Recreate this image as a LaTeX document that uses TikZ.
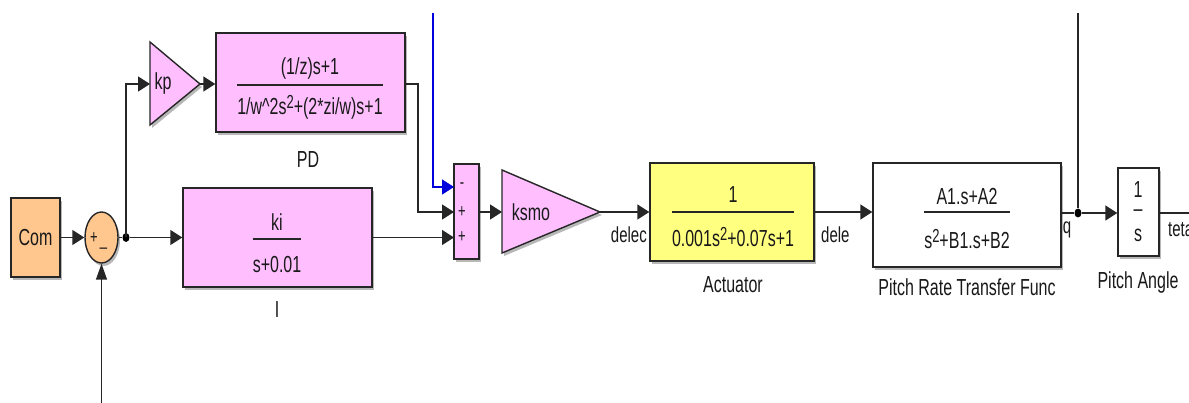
\documentclass[tikz,border=0pt]{standalone}
\usepackage{fontspec}
\setmainfont{Liberation Sans}
\usepackage{graphicx}
\usetikzlibrary{arrows.meta,shapes.geometric,shadows}
\definecolor{slpink}{RGB}{255,191,255}
\definecolor{slorange}{RGB}{255,198,142}
\definecolor{slyellow}{RGB}{255,255,128}
\definecolor{slblue}{RGB}{0,0,220}
\newcommand{\vs}[1]{\scalebox{1}[1.45]{#1}}
\newcommand{\sqr}{\raisebox{0.5ex}{\fontsize{13}{15}\selectfont 2}}
\begin{document}
\begin{tikzpicture}[x=1pt,y=-1pt,
  every node/.style={font=\fontsize{16}{19}\selectfont, inner sep=0pt, text=black!90},
  shadowed/.style={drop shadow={shadow xshift=2pt,shadow yshift=-3pt,fill=black,opacity=0.28}},
  block/.style={draw=black!85, line width=1.4pt, shadowed, rectangle},
  tri/.style={draw=black!85, line width=1.4pt, shadowed, fill=slpink, line join=miter},
  wire/.style={line width=1.4pt, draw=black!85},
  harrow/.style={wire,-{Triangle[length=12pt,width=15pt]}},
  varrow/.style={wire,-{Triangle[length=16pt,width=11pt]}},
  bar/.style={line width=1.3pt, draw=black!85},
  sig/.style={font=\fontsize{15}{18}\selectfont},
  sgn/.style={font=\fontsize{13}{15}\selectfont},
  dot/.style={ellipse, fill=black, minimum width=7pt, minimum height=9pt}
]
\useasboundingbox[fill=white] (0,0) rectangle (1189,403);

% ---- Com and first sum
\node[block, fill=slorange, minimum width=49pt, minimum height=79pt] (com) at (35.5,237.5) {\vs{Com}};
\node[ellipse, draw=black!85, line width=1.4pt, fill=slorange, shadowed, minimum width=33pt, minimum height=51pt] (sum1) at (101.5,237.5) {};
\node[sgn] (s1p) at (94,238) {\vs{+}};
\node[sgn] (s1m) at (103.5,247) {\vs{\_}};
\node[dot] (b1) at (126,237.5) {};

% ---- I block
\node[block, fill=slpink, minimum width=189pt, minimum height=99pt] (I) at (277.5,237.5) {};
\node (Inum) at (277,222) {\vs{ki}};
\node (Iden) at (277,265) {\vs{s+0.01}};
\coordinate (Ibar) at (0,239);
\draw[bar] (Iden.west |- Ibar) -- (Iden.east |- Ibar);
\node (Ilbl) at (277,310) {\vs{I}};

% ---- kp gain
\coordinate (kpin) at (150,84);
\coordinate (kpout) at (200,84);
\coordinate (kptop) at (150,42);
\coordinate (kpbot) at (150,125);
\draw[tri] (kptop) -- (kpout) -- (kpbot) -- cycle;
\node (kp) at (163,84) {\vs{kp}};

% ---- PD block
\node[block, fill=slpink, minimum width=189pt, minimum height=99pt] (PD) at (310.5,82.5) {};
\node (PDnum) at (310,68) {\vs{(1/z)s+1}};
\node (PDden) at (310,107) {\vs{1/w\textasciicircum 2s\sqr+(2*zi/w)s+1}};
\coordinate (PDbar) at (0,85);
\draw[bar] (PDden.west |- PDbar) -- (PDden.east |- PDbar);
\node (PDlbl) at (308,160) {\vs{PD}};

% ---- second sum
\node[block, fill=slpink, minimum width=25pt, minimum height=95pt] (sum2) at (466.5,211.5) {};
\coordinate (s2a) at (454,187);
\coordinate (s2b) at (454,212);
\coordinate (s2c) at (454,237.5);
\node[sgn] (s2m) at (462,186) {\vs{-}};
\node[sgn] (s2p1) at (462,212) {\vs{+}};
\node[sgn] (s2p2) at (462,237) {\vs{+}};

% ---- ksmo gain
\coordinate (ksin) at (502,212);
\coordinate (ksout) at (600,212);
\coordinate (kstop) at (502,170);
\coordinate (ksbot) at (502,253);
\draw[tri] (kstop) -- (ksout) -- (ksbot) -- cycle;
\node (ksmo) at (531,212) {\vs{ksmo}};

% ---- Actuator
\node[block, fill=slyellow, minimum width=164pt, minimum height=98pt] (act) at (732,212) {};
\node (actnum) at (733,195) {\vs{1}};
\node (actden) at (733,237) {\vs{0.001s\sqr+0.07s+1}};
\coordinate (actbar) at (0,212);
\draw[bar] (actden.west |- actbar) -- (actden.east |- actbar);
\node (actlbl) at (733,285) {\vs{Actuator}};
\node[sig, anchor=east] (delec) at (647,235) {\vs{delec}};
\node[sig, anchor=west] (dele) at (821,235) {\vs{dele}};

% ---- Pitch rate transfer function
\node[block, fill=white, minimum width=188pt, minimum height=104pt] (prtf) at (967,215) {};
\node (prnum) at (967,197) {\vs{A1.s+A2}};
\node (prden) at (967,239) {\vs{s\sqr+B1.s+B2}};
\coordinate (prbar) at (0,212);
\draw[bar] (prden.west |- prbar) -- (prden.east |- prbar);
\node (prlbl) at (967,287) {\vs{Pitch Rate Transfer Func}};
\node[sig] (q) at (1067,230) {\vs{q}};
\node[dot] (b2) at (1078,213) {};

% ---- Pitch angle integrator
\node[block, fill=white, minimum width=41pt, minimum height=88pt] (pa) at (1138.5,212) {};
\node (panum) at (1138,190) {\vs{1}};
\node (pabar) at (1138,213) {\vs{–}};
\node (paden) at (1138,235) {\vs{s}};
\node (palbl) at (1138,283) {\vs{Pitch Angle}};
\node[sig, anchor=west] (teta) at (1168,230) {\vs{teta}};

% ---- free ends
\coordinate (topblue) at (433,13);
\coordinate (topq) at (1078,13);
\coordinate (bot) at (101.5,403);
\coordinate (outend) at (1189,213);
\coordinate (pdturn) at (418,84);

% ---- connectors
\draw[harrow] (com) -- (sum1);
\draw[wire] (sum1) -- (b1);
\draw[harrow] (b1) -- (I);
\draw[harrow] (b1.center) |- (kpin);
\draw[harrow] (kpout) -- (PD.west |- kpout);
\draw[harrow] (PD.east |- pdturn) -- (pdturn) |- (s2b);
\draw[harrow] (I.east) -- (s2c);
\draw[line width=1.4pt, draw=slblue, -{Triangle[length=12pt,width=15pt]}] (topblue) |- (s2a);
\draw[harrow] (sum2.east |- ksin) -- (ksin);
\draw[harrow] (ksout) -- (act.west);
\draw[harrow] (act.east) -- (prtf.west |- act.east);
\draw[wire] (prtf.east |- b2) -- (b2);
\draw[harrow] (b2) -- (pa.west |- b2);
\draw[wire] (topq) -- (b2);
\draw[wire] (pa.east |- b2) -- (outend);
\draw[varrow] (bot) -- (sum1.south);
\end{tikzpicture}
\end{document}
